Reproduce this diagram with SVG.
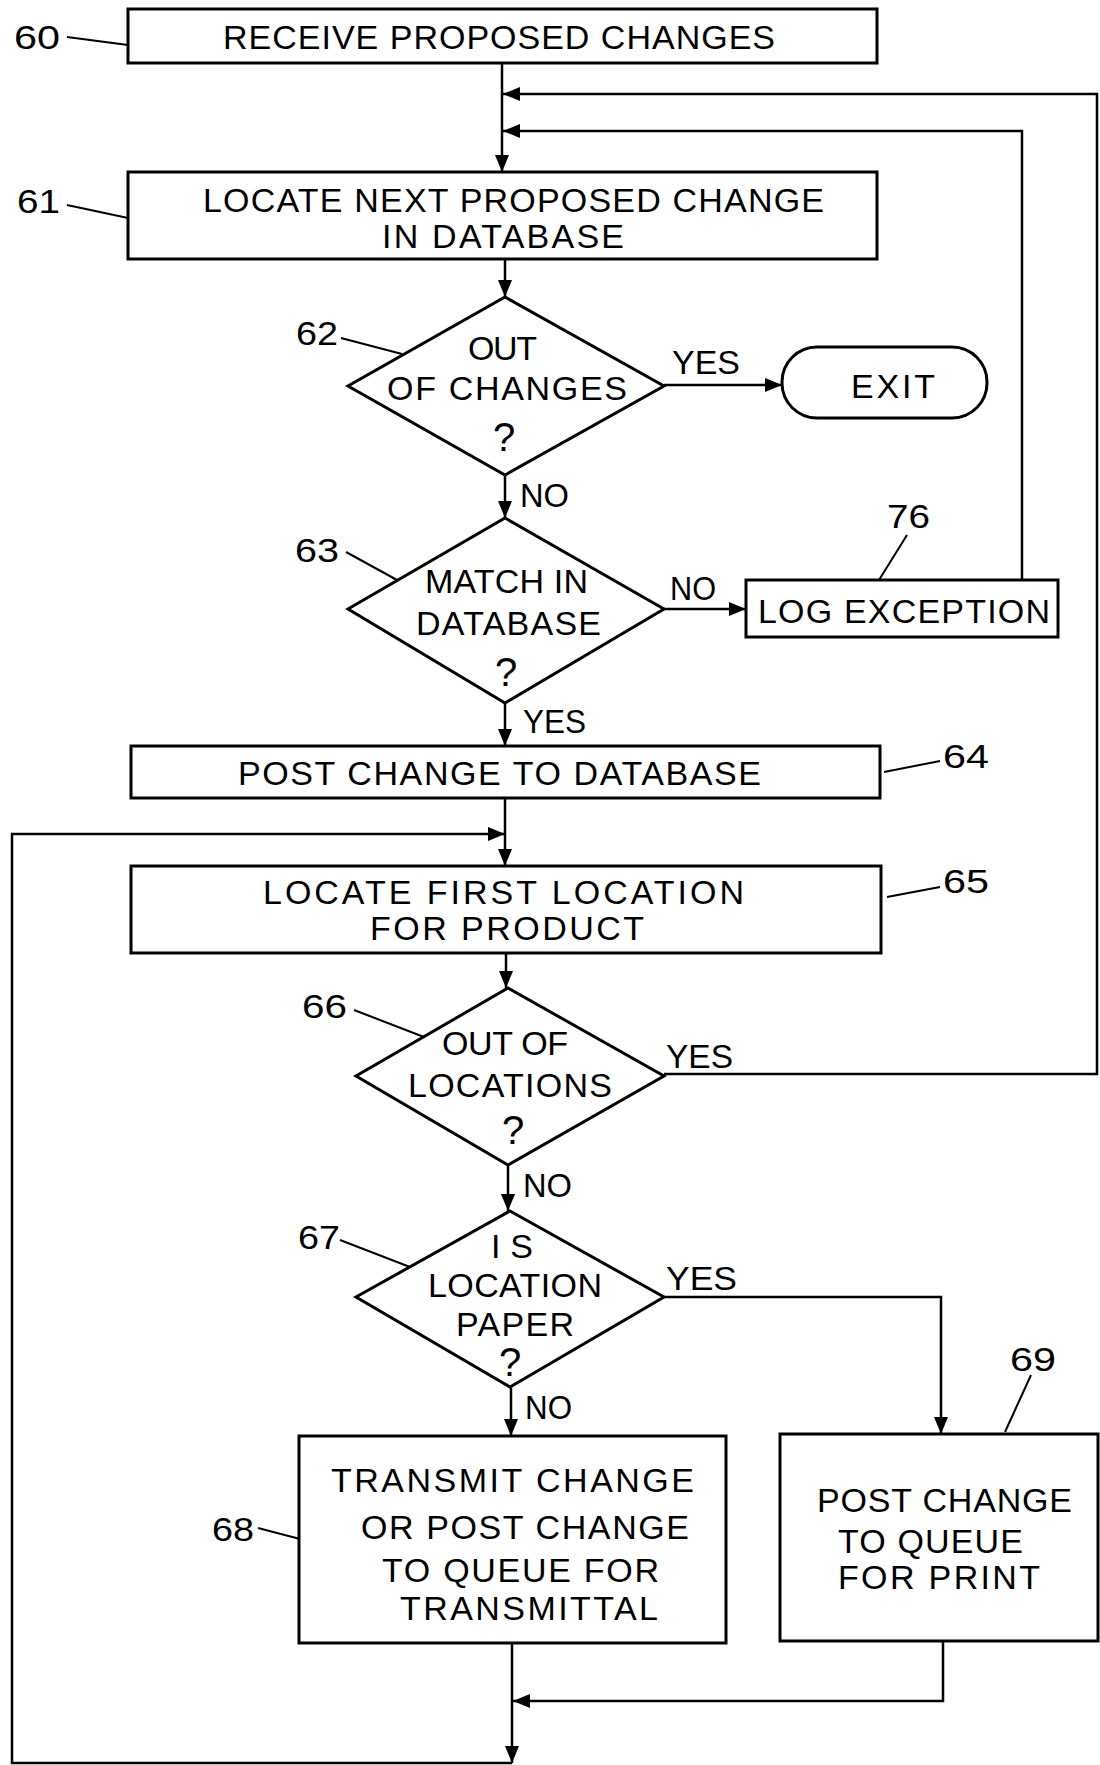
<svg xmlns="http://www.w3.org/2000/svg" width="1100" height="1765" viewBox="0 0 1100 1765">
<defs>
<style>
.box{fill:#fff;stroke:#000;stroke-width:3}
.ln{fill:none;stroke:#000;stroke-width:2.5}
.ld{fill:none;stroke:#000;stroke-width:2}
text{font-family:"Liberation Sans Narrow","Liberation Sans",Arial,sans-serif;font-size:34px;fill:#000}
text.s{font-family:"Liberation Sans",Arial,sans-serif;font-size:33px}
.q{font-size:40px}
</style>
<marker id="ah" markerUnits="userSpaceOnUse" markerWidth="18" markerHeight="14" refX="17" refY="7" orient="auto">
<path d="M0,0 L17,7 L0,14 z" fill="#000"/>
</marker>
</defs>
<rect width="1100" height="1765" fill="#fff"/>
<g id="connectors">
<path class="ln" d="M502,63 V172" marker-end="url(#ah)"/>
<path class="ln" d="M664,1074 H1097 V94 H503" marker-end="url(#ah)"/>
<path class="ln" d="M1022,580 V131 H503" marker-end="url(#ah)"/>
<path class="ln" d="M505,259 V297" marker-end="url(#ah)"/>
<path class="ln" d="M664,385 H782" marker-end="url(#ah)"/>
<path class="ln" d="M505,475 V518" marker-end="url(#ah)"/>
<path class="ln" d="M664,609 H746" marker-end="url(#ah)"/>
<path class="ln" d="M505,703 V746" marker-end="url(#ah)"/>
<path class="ln" d="M505,798 V866" marker-end="url(#ah)"/>
<path class="ln" d="M512,1763 H12 V834 H505" marker-end="url(#ah)"/>
<path class="ln" d="M506,953 V988" marker-end="url(#ah)"/>
<path class="ln" d="M508,1165 V1211" marker-end="url(#ah)"/>
<path class="ln" d="M664,1297 H941 V1434" marker-end="url(#ah)"/>
<path class="ln" d="M511,1387 V1436" marker-end="url(#ah)"/>
<path class="ln" d="M512,1643 V1763" marker-end="url(#ah)"/>
<path class="ln" d="M943,1641 V1701 H513" marker-end="url(#ah)"/>
</g>
<g id="n60">
<rect class="box" x="128" y="9" width="749" height="54"/>
<text x="223" y="49" textLength="552" lengthAdjust="spacing">RECEIVE  PROPOSED CHANGES</text>
<path class="ld" d="M67,37 L128,45"/>
<text class="s" x="14" y="49" textLength="46" lengthAdjust="spacingAndGlyphs">60</text>
</g>
<g id="n61">
<rect class="box" x="128" y="172" width="749" height="87"/>
<text x="203" y="212" textLength="621" lengthAdjust="spacing">LOCATE NEXT PROPOSED  CHANGE</text>
<text x="382" y="248" textLength="242" lengthAdjust="spacing">IN DATABASE</text>
<path class="ld" d="M67,205 L128,218"/>
<text class="s" x="17" y="213" textLength="43" lengthAdjust="spacingAndGlyphs">61</text>
</g>
<g id="n62">
<polygon class="box" points="505,297 664,386 505,475 348,386"/>
<text x="468" y="360" textLength="69" lengthAdjust="spacing">OUT</text>
<text x="387" y="400" textLength="240" lengthAdjust="spacing">OF  CHANGES</text>
<text class="q" x="504" y="451" text-anchor="middle">?</text>
<path class="ld" d="M341,338 L402,354"/>
<text class="s" x="296" y="345" textLength="42" lengthAdjust="spacingAndGlyphs">62</text>
<text class="s" x="672" y="374" textLength="68" lengthAdjust="spacingAndGlyphs">YES</text>
<text class="s" x="520" y="507" textLength="49" lengthAdjust="spacingAndGlyphs">NO</text>
</g>
<g id="exit">
<rect class="box" x="782" y="347" width="205" height="71" rx="35" ry="35"/>
<text x="851" y="398" textLength="84" lengthAdjust="spacing">EXIT</text>
</g>
<g id="n63">
<polygon class="box" points="505,518 664,609 505,703 348,609"/>
<text x="425" y="593" textLength="163" lengthAdjust="spacing">MATCH IN</text>
<text x="416" y="635" textLength="185" lengthAdjust="spacing">DATABASE</text>
<text class="q" x="506" y="686" text-anchor="middle">?</text>
<path class="ld" d="M346,552 L397,580"/>
<text class="s" x="295" y="562" textLength="44" lengthAdjust="spacingAndGlyphs">63</text>
<text class="s" x="670" y="600" textLength="46" lengthAdjust="spacingAndGlyphs">NO</text>
<text class="s" x="523" y="733" textLength="63" lengthAdjust="spacingAndGlyphs">YES</text>
</g>
<g id="n76">
<rect class="box" x="746" y="580" width="312" height="57"/>
<text x="758" y="623" textLength="292" lengthAdjust="spacing">LOG  EXCEPTION</text>
<path class="ld" d="M907,535 L879,580"/>
<text class="s" x="887" y="528" textLength="43" lengthAdjust="spacingAndGlyphs">76</text>
</g>
<g id="n64">
<rect class="box" x="131" y="746" width="749" height="52"/>
<text x="238" y="785" textLength="523" lengthAdjust="spacing">POST  CHANGE TO DATABASE</text>
<path class="ld" d="M884,772 L940,761"/>
<text class="s" x="943" y="768" textLength="46" lengthAdjust="spacingAndGlyphs">64</text>
</g>
<g id="n65">
<rect class="box" x="131" y="866" width="750" height="87"/>
<text x="263" y="904" textLength="481" lengthAdjust="spacing">LOCATE  FIRST LOCATION</text>
<text x="370" y="940" textLength="274" lengthAdjust="spacing">FOR  PRODUCT</text>
<path class="ld" d="M887,897 L940,887"/>
<text class="s" x="943" y="893" textLength="46" lengthAdjust="spacingAndGlyphs">65</text>
</g>
<g id="n66">
<polygon class="box" points="508,988 664,1076 508,1165 356,1076"/>
<text x="442" y="1055" textLength="126" lengthAdjust="spacing">OUT OF</text>
<text x="408" y="1097" textLength="204" lengthAdjust="spacing">LOCATIONS</text>
<text class="q" x="513" y="1144" text-anchor="middle">?</text>
<path class="ld" d="M354,1010 L424,1037"/>
<text class="s" x="302" y="1018" textLength="45" lengthAdjust="spacingAndGlyphs">66</text>
<text class="s" x="666" y="1068" textLength="67" lengthAdjust="spacingAndGlyphs">YES</text>
<text class="s" x="523" y="1197" textLength="49" lengthAdjust="spacingAndGlyphs">NO</text>
</g>
<g id="n67">
<polygon class="box" points="510,1211 664,1297 510,1387 356,1297"/>
<text x="491" y="1258" textLength="42" lengthAdjust="spacing">IS</text>
<text x="428" y="1297" textLength="174" lengthAdjust="spacing">LOCATION</text>
<text x="456" y="1336" textLength="118" lengthAdjust="spacing">PAPER</text>
<text class="q" x="510" y="1376" text-anchor="middle">?</text>
<path class="ld" d="M340,1240 L410,1267"/>
<text class="s" x="298" y="1249" textLength="42" lengthAdjust="spacingAndGlyphs">67</text>
<text class="s" x="666" y="1290" textLength="71" lengthAdjust="spacingAndGlyphs">YES</text>
<text class="s" x="525" y="1419" textLength="47" lengthAdjust="spacingAndGlyphs">NO</text>
</g>
<g id="n68">
<rect class="box" x="299" y="1436" width="427" height="207"/>
<text x="331" y="1492" textLength="363" lengthAdjust="spacing">TRANSMIT  CHANGE</text>
<text x="361" y="1539" textLength="328" lengthAdjust="spacing">OR POST  CHANGE</text>
<text x="382" y="1582" textLength="277" lengthAdjust="spacing">TO QUEUE  FOR</text>
<text x="400" y="1620" textLength="258" lengthAdjust="spacing">TRANSMITTAL</text>
<path class="ld" d="M258,1528 L300,1539"/>
<text class="s" x="212" y="1541" textLength="42" lengthAdjust="spacingAndGlyphs">68</text>
</g>
<g id="n69">
<rect class="box" x="780" y="1434" width="318" height="207"/>
<text x="817" y="1512" textLength="255" lengthAdjust="spacing">POST CHANGE</text>
<text x="838" y="1553" textLength="185" lengthAdjust="spacing">TO  QUEUE</text>
<text x="838" y="1589" textLength="202" lengthAdjust="spacing">FOR PRINT</text>
<path class="ld" d="M1031,1375 L1005,1432"/>
<text class="s" x="1010" y="1371" textLength="46" lengthAdjust="spacingAndGlyphs">69</text>
</g>
</svg>
